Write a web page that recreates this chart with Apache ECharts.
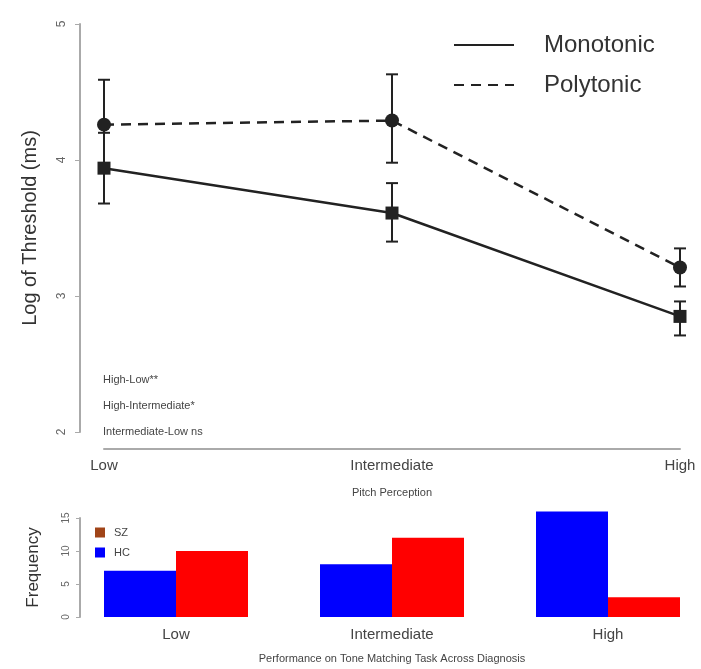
<!DOCTYPE html>
<html>
<head>
<meta charset="utf-8">
<script src="https://cdn.jsdelivr.net/npm/echarts@6/dist/echarts.min.js"></script>
<style>
  html, body { margin: 0; padding: 0; background: #fff; }
  #chart { width: 701px; height: 669px; }
</style>
</head>
<body>
<div id="chart"></div>
<script>
// pitch perception levels
const pitchLevels = ['Low', 'Intermediate', 'High']

// log of threshold (ms), mean and error bar ends
const monoMean = [3.94, 3.61, 2.85]
const monoLow = [3.68, 3.40, 2.71]
const monoHigh = [4.20, 3.83, 2.96]
const polyMean = [4.26, 4.29, 3.21]
const polyLow = [3.93, 3.98, 3.07]
const polyHigh = [4.59, 4.63, 3.35]

// tone matching frequency by diagnosis
const hcFreq = [7, 8, 16]
const szFreq = [10, 12, 3]

const contrasts = ['High-Low**', 'High-Intermediate*', 'Intermediate-Low ns']

const font = 'Liberation Sans'
const ink = '#222'

// error bars drawn through the axes
const errorBars = (name, lows, highs) => ({
  type: 'custom',
  name: name + ' SE',
  xAxisIndex: 0,
  yAxisIndex: 0,
  z: 2,
  data: pitchLevels.map((c, i) => [i, lows[i], highs[i]]),
  renderItem: (params, api) => {
    const lo = api.coord([api.value(0), api.value(1)])
    const hi = api.coord([api.value(0), api.value(2)])
    const st = { stroke: ink, lineWidth: 2 }
    return {
      type: 'group',
      children: [
        { type: 'line', shape: { x1: lo[0], y1: lo[1], x2: hi[0], y2: hi[1] }, style: st },
        { type: 'line', shape: { x1: lo[0] - 6, y1: lo[1], x2: lo[0] + 6, y2: lo[1] }, style: st },
        { type: 'line', shape: { x1: hi[0] - 6, y1: hi[1], x2: hi[0] + 6, y2: hi[1] }, style: st }
      ]
    }
  }
})

const chart = echarts.init(document.getElementById('chart'))
const option = {
  animation: false,
  textStyle: { fontFamily: font },
  grid: [
    { left: 104, right: 21, top: 24, bottom: 237 },
    { left: 176, right: 93, top: 518, bottom: 52 }
  ],
  legend: [
    {
      data: ['Monotonic', 'Polytonic'],
      orient: 'vertical',
      left: 453,
      top: 33,
      padding: 0,
      itemWidth: 60,
      itemHeight: 24,
      itemGap: 16,
      itemStyle: { opacity: 0 },
      textStyle: { fontSize: 24, color: '#333', padding: [0, 0, 0, 25] }
    },
    {
      data: [
        { name: 'SZ', itemStyle: { color: '#a04418' } },
        { name: 'HC' }
      ],
      orient: 'vertical',
      left: 95,
      top: 527,
      padding: 0,
      icon: 'rect',
      itemWidth: 10,
      itemHeight: 10,
      itemGap: 9,
      textStyle: { fontSize: 11, color: '#444', padding: [0, 0, 0, 4] }
    }
  ],
  xAxis: [
    {
      gridIndex: 0,
      type: 'category',
      data: pitchLevels,
      boundaryGap: false,
      offset: 17,
      axisLine: { lineStyle: { color: '#aaa', width: 2 } },
      axisTick: { show: false },
      axisLabel: { fontSize: 15, color: '#444', margin: 9 },
      name: 'Pitch Perception',
      nameLocation: 'middle',
      nameGap: 38,
      nameTextStyle: { fontSize: 11, color: '#444' }
    },
    {
      gridIndex: 1,
      type: 'category',
      data: pitchLevels,
      boundaryGap: false,
      axisLine: { show: false },
      axisTick: { show: false },
      axisLabel: { fontSize: 15, color: '#444', margin: 10 },
      name: 'Performance on Tone Matching Task Across Diagnosis',
      nameLocation: 'middle',
      nameGap: 36,
      nameTextStyle: { fontSize: 11, color: '#444' }
    }
  ],
  yAxis: [
    {
      gridIndex: 0,
      type: 'value',
      min: 2,
      max: 5,
      interval: 1,
      offset: 24,
      splitLine: { show: false },
      axisLine: { show: true, lineStyle: { color: '#aaa', width: 2 } },
      axisTick: { show: true, length: 5, lineStyle: { color: '#aaa' } },
      axisLabel: { rotate: 90, fontSize: 12, color: '#666', margin: 12 },
      name: 'Log of Threshold (ms)',
      nameLocation: 'middle',
      nameRotate: 90,
      nameGap: 40,
      nameTextStyle: { fontSize: 20, color: '#333' }
    },
    {
      gridIndex: 1,
      type: 'value',
      min: 0,
      max: 15,
      interval: 5,
      offset: 96,
      splitLine: { show: false },
      axisLine: { show: true, lineStyle: { color: '#aaa', width: 2 } },
      axisTick: { show: true, length: 4, lineStyle: { color: '#aaa' } },
      axisLabel: { rotate: 90, fontSize: 10, color: '#666', margin: 9 },
      name: 'Frequency',
      nameLocation: 'middle',
      nameRotate: 90,
      nameGap: 38,
      nameTextStyle: { fontSize: 17, color: '#333' }
    }
  ],
  graphic: contrasts.map((t, i) => ({
    type: 'text',
    left: 103,
    top: 374 + i * 26,
    style: { text: t, fontSize: 11, fill: '#444', fontFamily: font }
  })),
  series: [
    errorBars('Monotonic', monoLow, monoHigh),
    errorBars('Polytonic', polyLow, polyHigh),
    {
      name: 'Monotonic',
      type: 'line',
      xAxisIndex: 0,
      yAxisIndex: 0,
      z: 3,
      data: monoMean,
      symbol: 'rect',
      symbolSize: 13,
      itemStyle: { color: ink },
      lineStyle: { color: ink, width: 2.5 }
    },
    {
      name: 'Polytonic',
      type: 'line',
      xAxisIndex: 0,
      yAxisIndex: 0,
      z: 3,
      data: polyMean,
      symbol: 'circle',
      symbolSize: 14,
      itemStyle: { color: ink },
      lineStyle: { color: ink, width: 2.5, type: [10, 7] }
    },
    {
      name: 'HC',
      type: 'bar',
      xAxisIndex: 1,
      yAxisIndex: 1,
      data: hcFreq,
      barWidth: 72,
      barGap: '0%',
      clip: false,
      itemStyle: { color: '#0000ff' }
    },
    {
      name: 'SZ',
      type: 'bar',
      xAxisIndex: 1,
      yAxisIndex: 1,
      data: szFreq,
      barWidth: 72,
      barGap: '0%',
      clip: false,
      itemStyle: { color: '#ff0000' }
    }
  ]
}
chart.setOption(option)
</script>
</body>
</html>
